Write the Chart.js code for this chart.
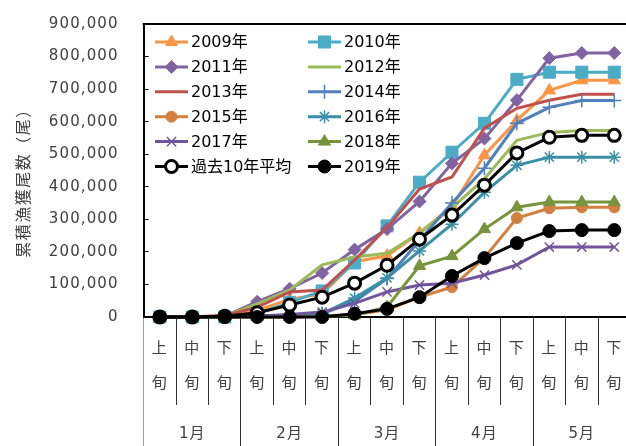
<!DOCTYPE html>
<html>
<head>
<meta charset="utf-8">
<script src="https://cdn.jsdelivr.net/npm/chart.js@4/dist/chart.umd.min.js"></script>
<style>
html, body { margin: 0; padding: 0; background: #fff; overflow: hidden; }
#wrap { width: 626px; height: 446px; overflow: hidden; position: relative; }
canvas { display: block; }
</style>
</head>
<body>
<div id="wrap"><canvas id="c" width="640" height="446"></canvas></div>
<script>
// 旬ごとの区分（上旬・中旬・下旬 × 1〜5月）
const periods = [
  ['上', '旬'], ['中', '旬'], ['下', '旬'],
  ['上', '旬'], ['中', '旬'], ['下', '旬'],
  ['上', '旬'], ['中', '旬'], ['下', '旬'],
  ['上', '旬'], ['中', '旬'], ['下', '旬'],
  ['上', '旬'], ['中', '旬'], ['下', '旬']
];
const months = ['1月', '2月', '3月', '4月', '5月'];

// 累積漁獲尾数（尾）
const y2009 = [0, 0, 2000, 20000, 55000, 70000, 170000, 188000, 258000, 340000, 497000, 604000, 696000, 727000, 727000];
const y2010 = [0, 0, 0, 10000, 45000, 80000, 166000, 280000, 414000, 506000, 595000, 730000, 752000, 752000, 752000];
const y2011 = [0, 0, 3000, 47000, 87000, 135000, 207000, 270000, 355000, 472000, 548000, 666000, 795000, 811000, 811000];
const y2012 = [0, 0, 3000, 40000, 83000, 160000, 184000, 196000, 258000, 335000, 425000, 543000, 567000, 573000, 573000];
const y2013 = [0, 0, 5000, 30000, 77000, 83000, 175000, 275000, 393000, 430000, 580000, 641000, 666000, 684000, 684000];
const y2014 = [0, 0, 0, 2000, 5000, 10000, 48000, 118000, 235000, 350000, 457000, 595000, 644000, 665000, 665000];
const y2015 = [0, 0, 0, 0, 0, 3000, 8000, 22000, 61000, 92000, 182000, 304000, 334000, 337000, 337000];
const y2016 = [0, 0, 0, 2000, 5000, 10000, 58000, 120000, 203000, 285000, 383000, 466000, 491000, 491000, 491000];
const y2017 = [0, 0, 0, 3000, 8000, 15000, 42000, 77000, 98000, 104000, 129000, 160000, 215000, 215000, 215000];
const y2018 = [0, 0, 0, 0, 0, 2000, 5000, 31000, 157000, 187000, 270000, 337000, 353000, 353000, 353000];
const yAvg  = [0, 0, 2000, 13000, 37000, 61000, 104000, 159000, 239000, 313000, 405000, 504000, 552000, 558000, 558000];
const y2019 = [0, 0, 0, 0, 0, 0, 10000, 25000, 61000, 126000, 181000, 227000, 264000, 267000, 267000];

const seriesLabels = ['2009年', '2010年', '2011年', '2012年', '2013年', '2014年',
                      '2015年', '2016年', '2017年', '2018年', '過去10年平均', '2019年'];
const seriesValues = [y2009, y2010, y2011, y2012, y2013, y2014,
                      y2015, y2016, y2017, y2018, yAvg, y2019];

// 系列ごとの線色・マーカー
const seriesStyles = [
  { color: '#F79646', point: 'triangle', r: 7 },
  { color: '#4BACC6', point: 'rect', r: 8.5 },
  { color: '#8064A2', point: 'rectRot', r: 6.5 },
  { color: '#9BBB59', point: false, r: 0 },
  { color: '#C0504D', point: false, r: 0 },
  { color: '#4F81BD', point: 'cross', r: 7, pbw: 1.5 },
  { color: '#D1803F', point: 'circle', r: 5.5 },
  { color: '#3A8FA6', point: 'star', r: 6.5, pbw: 1.5 },
  { color: '#6F559A', point: 'crossRot', r: 6.5, pbw: 1.5 },
  { color: '#77933C', point: 'triangle', r: 7 },
  { color: '#000000', point: 'circle', r: 6, fill: '#FFFFFF', pbw: 3 },
  { color: '#000000', point: 'circle', r: 6.5 }
];

const TXT = '#404040';
const NUM_FONT = "'DejaVu Sans', Verdana, sans-serif";
const JP_FONT = "'DejaVu Sans', 'Noto Sans CJK JP', sans-serif";

const datasets = seriesValues.map((vals, i) => {
  const s = seriesStyles[i];
  return {
    label: seriesLabels[i],
    data: vals,
    borderColor: s.color,
    backgroundColor: s.color,
    borderWidth: 3,
    tension: 0,
    pointStyle: s.point,
    pointRadius: s.r,
    pointHoverRadius: s.r,
    pointBackgroundColor: s.fill || s.color,
    pointBorderColor: s.color,
    pointBorderWidth: s.pbw || 1,
    clip: false,
    order: seriesValues.length - i
  };
});

// 軸目盛の字間と、プロット領域上端の枠線
const frameAndSpacing = {
  id: 'frameAndSpacing',
  beforeDraw(chart) {
    chart.ctx.letterSpacing = '1.1px';
  },
  beforeDatasetsDraw(chart) {
    const { ctx, chartArea: a } = chart;
    ctx.letterSpacing = '0px';
    ctx.save();
    ctx.strokeStyle = '#000';
    ctx.lineWidth = 2;
    ctx.beginPath();
    ctx.moveTo(a.left - 1, a.top);
    ctx.lineTo(a.right + 10, a.top);
    ctx.stroke();
    ctx.restore();
  }
};

// 凡例（2列配置）
const gridLegend = {
  id: 'gridLegend',
  afterDraw(chart) {
    const ctx = chart.ctx;
    const colX = [155, 308];
    const rowY0 = 42, rowStep = 24.9, lineLen = 33;
    ctx.save();
    ctx.letterSpacing = '0px';
    chart.data.datasets.forEach((ds, i) => {
      const x = colX[i % 2];
      const y = rowY0 + Math.floor(i / 2) * rowStep;
      ctx.strokeStyle = ds.borderColor;
      ctx.lineWidth = ds.borderWidth;
      ctx.lineCap = 'butt';
      ctx.beginPath();
      ctx.moveTo(x, y);
      ctx.lineTo(x + lineLen, y);
      ctx.stroke();
      if (ds.pointStyle) {
        ctx.fillStyle = ds.pointBackgroundColor;
        ctx.strokeStyle = ds.pointBorderColor;
        ctx.lineWidth = ds.pointBorderWidth;
        Chart.helpers.drawPoint(ctx, {
          pointStyle: ds.pointStyle,
          radius: ds.pointRadius,
          borderWidth: ds.pointBorderWidth,
          rotation: 0
        }, x + lineLen / 2, y);
      }
      ctx.fillStyle = '#000';
      ctx.font = "16px " + JP_FONT;
      ctx.textAlign = 'left';
      ctx.textBaseline = 'middle';
      ctx.fillText(ds.label, x + lineLen + 3, y + 1);
    });
    ctx.restore();
  }
};

// 縦軸タイトル
const yTitle = {
  id: 'yTitle',
  afterDraw(chart) {
    const ctx = chart.ctx;
    ctx.save();
    ctx.letterSpacing = '1.5px';
    ctx.translate(22.5, 179);
    ctx.rotate(-Math.PI / 2);
    ctx.fillStyle = TXT;
    ctx.font = "16px 'Noto Sans CJK JP', sans-serif";
    ctx.textAlign = 'center';
    ctx.textBaseline = 'middle';
    ctx.fillText('累積漁獲尾数（尾）', 0, 0);
    ctx.restore();
  }
};

const sepColor = (c) => (c.index === 0 ? '#A0A0A0' : '#303030');

new Chart(document.getElementById('c'), {
  type: 'line',
  data: { labels: periods, datasets },
  plugins: [frameAndSpacing, gridLegend, yTitle],
  options: {
    responsive: false,
    animation: false,
    events: [],
    layout: { padding: { top: 24, right: 5.9, left: 0, bottom: 0 } },
    plugins: { legend: { display: false }, tooltip: { enabled: false } },
    scales: {
      y: {
        position: 'left',
        min: 0,
        max: 900000,
        afterFit: (s) => { s.width = 143.6; s.paddingTop = 0; s.paddingBottom = 0; },
        ticks: {
          stepSize: 100000,
          color: TXT,
          padding: 30,
          font: { family: NUM_FONT, size: 15 },
          callback: (v) => v.toLocaleString('en-US')
        },
        grid: { drawOnChartArea: false, drawTicks: true, tickLength: -5, color: '#000', lineWidth: 1 },
        border: { display: true, color: '#000', width: 2 }
      },
      x: {
        type: 'category',
        position: 'bottom',
        offset: true,
        afterFit: (s) => { s.height = 88; },
        ticks: {
          autoSkip: false,
          maxRotation: 0,
          minRotation: 0,
          color: TXT,
          padding: -73.5,
          font: { family: JP_FONT, size: 15, lineHeight: '35px' }
        },
        grid: { offset: true, drawOnChartArea: false, drawTicks: true, tickLength: 88, color: sepColor, lineWidth: 1 },
        border: { display: true, color: '#000', width: 2 }
      },
      x2: {
        type: 'category',
        labels: months,
        position: 'bottom',
        offset: true,
        afterFit: (s) => { s.height = 41; },
        ticks: {
          autoSkip: false,
          maxRotation: 0,
          minRotation: 0,
          color: TXT,
          padding: -20.5,
          font: { family: JP_FONT, size: 15 }
        },
        grid: { offset: true, drawOnChartArea: false, drawTicks: true, tickLength: 41, color: sepColor, lineWidth: 1 },
        border: { display: false }
      }
    }
  }
});
</script>
</body>
</html>
